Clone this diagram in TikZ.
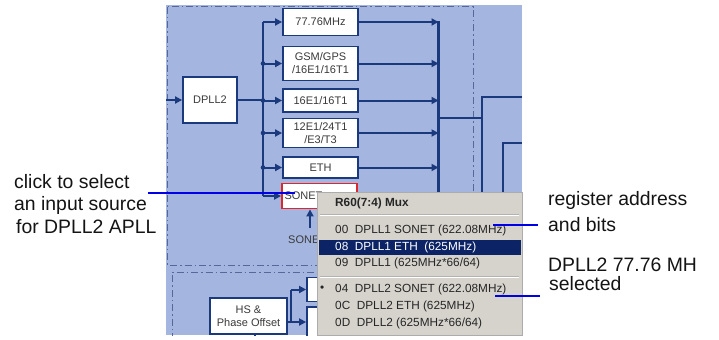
\documentclass[tikz,border=0pt]{standalone}
\usepackage{fontspec}
\setmainfont{Liberation Sans}
\usetikzlibrary{arrows.meta,calc}
\definecolor{bgblue}{HTML}{A4B5DF}
\definecolor{navy}{HTML}{1B3A7E}
\definecolor{dashc}{HTML}{56679A}
\definecolor{menugray}{HTML}{D6D3CC}
\definecolor{hilite}{HTML}{0C2466}
\definecolor{annblue}{HTML}{0000E6}
\definecolor{sonred}{HTML}{E0262B}
\definecolor{boxtext}{HTML}{3A3A3A}
\definecolor{menutext}{HTML}{262626}
\begin{document}
\begin{tikzpicture}[x=1bp,y=-1bp,
  blk/.style={draw=navy, line width=1.8bp, fill=white, inner sep=0pt, text=boxtext,
    font=\fontsize{11bp}{13bp}\selectfont, align=center},
  wire/.style={draw=navy, line width=2bp},
  arr/.style={wire, -{Triangle[length=7bp,width=7bp]}},
  region/.style={draw=dashc, line width=1bp, dash pattern=on 7bp off 3bp on 1.5bp off 3bp},
  lbl/.style={inner sep=0pt, text=boxtext, font=\fontsize{11bp}{13bp}\selectfont},
  mitem/.style={anchor=west, inner sep=0pt, text=menutext, font=\fontsize{11.8bp}{13bp}\selectfont},
  ann/.style={draw=annblue, line width=2.4bp},
  anntext/.style={anchor=base west, inner sep=0pt, text=black!92, font=\fontsize{19.4bp}{22bp}\selectfont}
]
\useasboundingbox (0,0) rectangle (719,339);
\fill[white] (0,0) rectangle (719,339);
\begin{scope}
\clip (166,5) rectangle (522,335);
\fill[bgblue] (166,5) rectangle (522,335);
% regions
\draw[region] (167.5,6.5) rectangle (473,265);
\draw[region] (172,340) -- (172,272) -- (480,272);
% DPLL2 block and outputs
\node[blk, minimum width=54bp, minimum height=46bp] (dpll) at (210,100) {DPLL2};
\node[blk, minimum width=75bp, minimum height=27bp] (b1) at (320.5,22) {77.76MHz};
\node[blk, minimum width=75bp, minimum height=34bp] (b2) at (320.5,63.5) {GSM/GPS\\/16E1/16T1};
\node[blk, minimum width=75bp, minimum height=23bp] (b3) at (320.5,100.5) {16E1/16T1};
\node[blk, minimum width=75bp, minimum height=29bp] (b4) at (320.5,133) {12E1/24T1\\/E3/T3};
\node[blk, minimum width=75bp, minimum height=21bp] (b5) at (320.5,167.5) {ETH};
\node[blk, draw=sonred, minimum height=25bp, text width=70bp, inner xsep=2.5bp, align=left] (b6) at (319.5,196) {SONET};
\coordinate (bus) at (263,0);
\coordinate (mux) at (438.5,0);
\coordinate (inp) at (166,100);
\draw[arr] (inp) -- (dpll.west);
\draw[wire] (dpll.east) -- (dpll.east -| bus);
\draw[wire, line width=2.2bp] (bus |- b1.west) -- (bus |- b6.west);
\foreach \b in {b1,b2,b3,b4,b5,b6} \draw[arr] (bus |- \b.west) -- (\b.west);
\foreach \b in {b2,b3,b4,b5} \fill[navy] (bus |- \b.west) circle (2.3bp);
\foreach \b in {b1,b2,b3,b4,b5} \draw[arr] (\b.east) -- (\b.east -| mux);
\draw[wire, line width=2.4bp] (mux |- 0,21) -- (mux |- 0,335);
\draw[wire, line width=2.4bp] (mux |- 0,118) -- (482,118);
\draw[wire, line width=2.4bp] (522,97) -- (482,97) -- (482,335);
\draw[wire, line width=2.4bp] (522,143) -- (503,143) -- (503,335);
% SONET input
\coordinate (sonsrc) at (310,228);
\draw[arr] (sonsrc) -- (sonsrc |- b6.south);
\node[lbl, anchor=west] (sonlbl) at (288,240) {SONET};
% lower region
\node[blk, minimum width=77bp, minimum height=36bp] (hs) at (248.5,316) {HS \&\\Phase Offset};
\node[blk, minimum width=66bp, minimum height=24bp] (la) at (340,289.5) {};
\node[blk, minimum width=66bp, minimum height=30bp] (lb) at (340,322) {};
\coordinate (hsout) at ($(hs.east)+(0,6)$);
\coordinate (jn) at (291,0);
\draw[arr] (hsout) -- (lb.west);
\draw[wire] (jn |- lb.west) -- (jn |- la.west);
\draw[arr] (jn |- la.west) -- (la.west);
\draw[wire] (hs.south -| 255,0) -- ++(0,6);
\end{scope}
% popup menu
\node[draw=gray!65, line width=0.8bp, fill=menugray, minimum width=205bp, minimum height=143bp,
  inner sep=0pt, anchor=north west] (menu) at (317,192) {};
\draw[gray!60, line width=0.8bp] (320,214) -- (519,214);
\draw[white, line width=0.8bp] (320,215) -- (519,215);
\draw[gray!60, line width=0.8bp] (320,276) -- (519,276);
\draw[white, line width=0.8bp] (320,277) -- (519,277);
\fill[hilite] (318.5,239.5) rectangle (521,255);
\node[mitem, font=\fontsize{11.8bp}{13bp}\selectfont\bfseries] (mt) at (335,203) {R60(7:4) Mux};
\node[mitem] (m1) at (335,230) {00\ \ DPLL1 SONET (622.08MHz)};
\node[mitem, text=white] (m2) at (335,247) {08\ \ DPLL1 ETH\ \ (625MHz)};
\node[mitem] (m3) at (335,263) {09\ \ DPLL1 (625MHz*66/64)};
\node[mitem] (mb) at (320,289) {•};
\node[mitem] (m4) at (335,289) {04\ \ DPLL2 SONET (622.08MHz)};
\node[mitem] (m5) at (335,306) {0C\ \ DPLL2 ETH (625MHz)};
\node[mitem] (m6) at (335,323) {0D\ \ DPLL2 (625MHz*66/64)};
% annotations
\node[anntext] (t1) at (14,188) {click to select};
\node[anntext] (t2) at (14,210) {an input source};
\node[anntext] (t3) at (16,233) {for DPLL2 APLL};
\node[anntext] (r1) at (548,205) {register address};
\node[anntext] (r2) at (548,231) {and bits};
\node[anntext] (s1) at (548,271) {DPLL2 77.76 MH};
\node[anntext] (s2) at (549,290) {selected};
\coordinate (a1s) at (148,193);
\coordinate (a1e) at (295,193);
\draw[ann] (a1s) -- (a1e);
\coordinate (a2s) at (538,225);
\coordinate (a2e) at (493,225);
\draw[ann] (a2s) -- (a2e);
\coordinate (a3s) at (540,296);
\coordinate (a3e) at (495,296);
\draw[ann] (a3s) -- (a3e);
\end{tikzpicture}
\end{document}
